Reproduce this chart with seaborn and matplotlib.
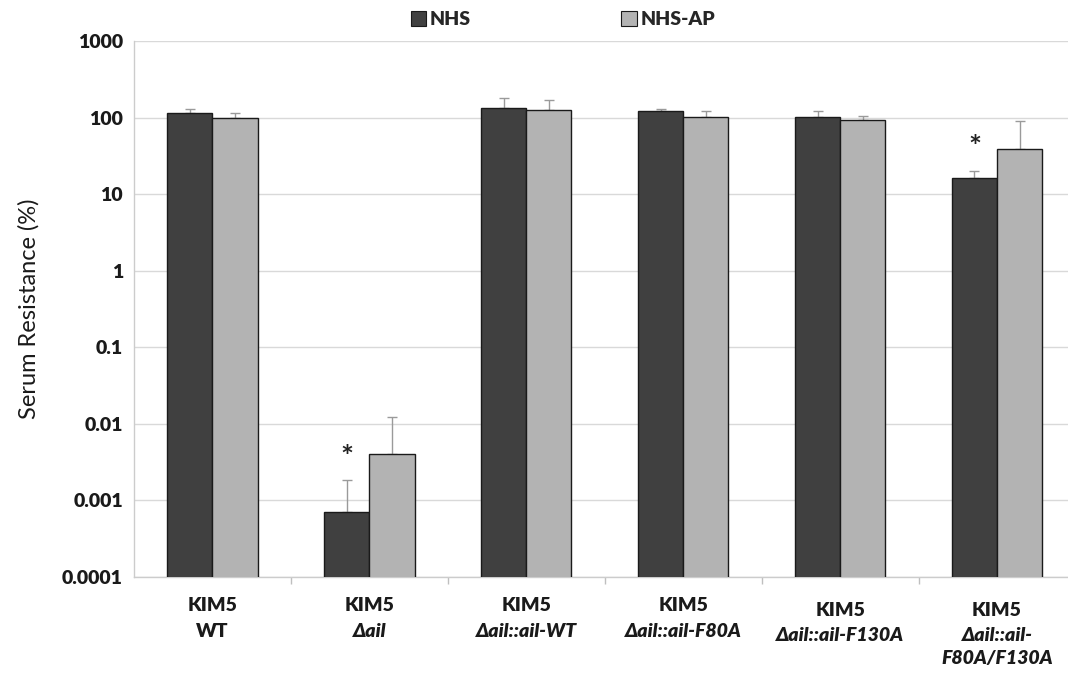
import numpy as np
import pandas as pd
import matplotlib
matplotlib.use("Agg")
import matplotlib.pyplot as plt
from matplotlib.patches import Patch
import seaborn as sns

strains = ["KIM5 WT", "KIM5 dail", "KIM5 dail::ail-WT", "KIM5 dail::ail-F80A",
           "KIM5 dail::ail-F130A", "KIM5 dail::ail-F80A/F130A"]
label_line1 = ["KIM5"] * 6
label_rest = ["WT", "Δail", "Δail::ail-WT", "Δail::ail-F80A", "Δail::ail-F130A", "Δail::ail-\nF80A/F130A"]
italic_rest = [False, True, True, True, True, True]
sera = ["NHS", "NHS-AP"]
nhs = [116, 0.0007, 135, 120, 103, 16.2]
nhs_err = [15, 0.00115, 47, 11, 17, 4]
nhsap = [100, 0.0040, 127, 103, 94, 38.7]
nhsap_err = [13, 0.0083, 40, 20, 12, 52]
significant = [False, True, False, False, False, True]
yticks = [0.0001, 0.001, 0.01, 0.1, 1, 10, 100, 1000]
ytick_labels = ["0.0001", "0.001", "0.01", "0.1", "1", "10", "100", "1000"]

df = pd.DataFrame({
    "strain": strains * 2,
    "serum": [sera[0]] * 6 + [sera[1]] * 6,
    "value": nhs + nhsap,
    "err": nhs_err + nhsap_err,
})

sns.set_theme(style="white")
plt.rcParams["font.family"] = ["Lato", "DejaVu Sans"]

fig = plt.figure(figsize=(10.68, 6.75), dpi=100)
ax = fig.add_axes([0.1255, 0.1452, 0.8815, 0.7941])
ax.set_yscale("log")
colors = {"NHS": "#404040", "NHS-AP": "#b3b3b3"}
sns.barplot(data=df, x="strain", y="value", hue="serum", order=strains,
            hue_order=sera, palette=colors, errorbar=None, width=0.575,
            edgecolor="#1a1a1a", linewidth=1.0, ax=ax, legend=False, zorder=3)

# error bars from bar positions
bars = [p for p in ax.patches if p.get_height() > 0]
bars_sorted = sorted(bars, key=lambda p: p.get_x())
for i, s in enumerate(strains):
    for j, serum in enumerate(sera):
        row = df[(df.strain == s) & (df.serum == serum)].iloc[0]
        p = bars_sorted[2 * i + j]
        xc = p.get_x() + p.get_width() / 2
        ax.errorbar(xc, row.value, yerr=[[0], [row.err]], fmt="none",
                    ecolor="#9a9a9a", elinewidth=1.0, capsize=3.5, capthick=1.0, zorder=2)
        if serum == "NHS" and significant[i]:
            ax.annotate("*", xy=(xc, row.value + row.err), xytext=(0, 6),
                        textcoords="offset points", ha="center", va="bottom",
                        fontsize=22, fontweight="bold", color="#222222")

ax.set_ylim(1e-4, 1e3)
ax.set_yticks(yticks)
ax.set_yticklabels(ytick_labels, fontsize=14, fontweight="heavy", color="#1a1a1a")
ax.minorticks_off()
ax.yaxis.grid(True, color="#d9d9d9", linewidth=1.0, zorder=0)
ax.tick_params(axis="y", length=0, pad=8)
ax.set_xlim(-0.5, 5.5)
ax.set_xticks(range(6))
ax.set_xticklabels([""] * 6)
ax.set_xticks(np.arange(0.5, 5.5, 1.0), minor=True)
ax.tick_params(axis="x", which="major", length=0)
ax.tick_params(axis="x", which="minor", length=5, color="#bfbfbf", width=1, direction="out", bottom=True)
ax.set_xlabel("")
ax.set_ylabel("Serum Resistance (%)", fontsize=17, color="#1a1a1a", labelpad=16)
for sp in ["top", "right"]:
    ax.spines[sp].set_visible(False)
for sp in ["left", "bottom"]:
    ax.spines[sp].set_color("#cccccc")
    ax.spines[sp].set_linewidth(1.0)

trans = ax.get_xaxis_transform()
for i in range(6):
    yoff = -0.038 if i < 4 else -0.046
    ax.text(i, yoff, label_line1[i], transform=trans, ha="center", va="top",
            fontsize=14, fontweight="heavy", color="#1a1a1a")
    ax.text(i, yoff - 0.047, label_rest[i], transform=trans, ha="center", va="top",
            fontsize=14, fontweight="heavy", color="#1a1a1a",
            fontstyle="italic" if italic_rest[i] else "normal", linespacing=1.45)

handles = [Patch(facecolor=colors[s], edgecolor="#1a1a1a", linewidth=0.8) for s in sera]
fig.legend(handles, sera, loc="center", bbox_to_anchor=(0.527, 0.971), ncol=2,
           frameon=False, prop={"weight": "heavy", "size": 14}, handlelength=0.8,
           handleheight=0.8, handletextpad=0.2, columnspacing=7.7)

fig.savefig("out.png", dpi=100)
